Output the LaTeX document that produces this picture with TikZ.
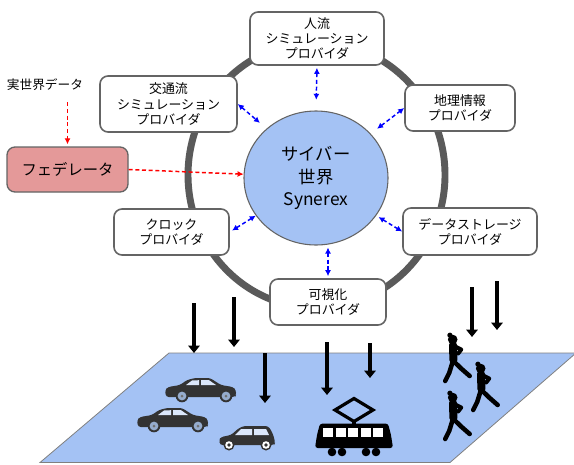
\documentclass[tikz,border=0pt]{standalone}
\usepackage{fontspec}
\newfontfamily\jpfont{Noto Sans CJK JP}
\usetikzlibrary{arrows.meta,shapes.geometric,positioning}

\definecolor{ringgray}{RGB}{90,90,90}
\definecolor{boxgray}{RGB}{100,100,100}
\definecolor{skyblue}{RGB}{164,194,244}
\definecolor{fedpink}{RGB}{228,153,153}
\definecolor{cargray}{RGB}{51,51,51}
\definecolor{rimblue}{RGB}{150,172,205}

\tikzset{
  provider/.style={draw=boxgray, line width=1.2pt, fill=white, rounded corners=6pt,
    align=center, inner sep=0pt, font=\jpfont\fontsize{9.7pt}{11.3pt}\selectfont},
  cyberworld/.style={ellipse, draw=boxgray, line width=0.8pt, fill=skyblue, inner sep=0pt,
    minimum width=108pt, minimum height=100.5pt, align=center,
    font=\jpfont\fontsize{13pt}{17pt}\selectfont},
  federator/.style={draw=boxgray, line width=1pt, fill=fedpink, rounded corners=6pt,
    inner sep=0pt, minimum width=90.75pt, minimum height=33.75pt,
    font=\jpfont\fontsize{11.5pt}{14pt}\selectfont},
  syncarrow/.style={blue, line width=1.1pt, dash pattern=on 3pt off 2pt,
    {Latex[length=4.5pt,width=4.5pt]}-{Latex[length=4.5pt,width=4.5pt]}},
  feedarrow/.style={red, line width=1.1pt, dash pattern=on 3pt off 2pt,
    -{Latex[length=4.5pt,width=4.5pt]}},
  dataarrow/.style={black, line width=3.3pt, -{Triangle[length=5.5pt,width=8.5pt]}},
  % small icons on the ground plane (drawn y down, so use transform shape)
  sedan/.pic={
    \fill[cargray, rounded corners=2pt] (1,19) -- (0,12) -- (3,9) -- (15,7) -- (22,2) -- (30,0)
      -- (45,0) -- (56,7) -- (68,9) -- (71,12) -- (71,17) -- (70,19) -- cycle;
    \fill[skyblue!40!white] (21,7) -- (27,2.5) -- (34,2.2) -- (34,7) -- cycle;
    \fill[skyblue!40!white] (36,7) -- (36,2.2) -- (44,2.2) -- (51,7) -- cycle;
    \foreach \wx in {17,61} {
      \fill[cargray] (\wx,18) circle (6.3);
      \fill[rimblue] (\wx,18) circle (4.4);
      \fill[cargray!70] (\wx,18) circle (1.5);
    }
  },
  hatchback/.pic={
    \fill[cargray, rounded corners=2pt] (1,19) -- (0,14) -- (2,11) -- (12,9) -- (20,2) -- (25,0)
      -- (49,0) -- (52,4) -- (55,11) -- (56,17) -- (55,19) -- cycle;
    \fill[skyblue!40!white] (16,9) -- (22,3) -- (33,3) -- (33,9) -- cycle;
    \fill[skyblue!40!white] (35,9) -- (35,3) -- (47,3) -- (50,9) -- cycle;
    \foreach \wx in {10,47} {
      \fill[cargray] (\wx,19) circle (5.5);
      \fill[white] (\wx,19) circle (3.8);
      \fill[cargray] (\wx,19) circle (1.8);
    }
  },
  tram/.pic={
    \draw[line width=2.4pt, line join=miter] (39,1.5) -- (58,13) -- (39,24.5) -- (20,13) -- cycle;
    \draw[line width=2.4pt] (39,24.5) -- (39,28);
    \fill[rounded corners=2pt] (0,51) -- (2,38) -- (5,26.5) -- (73,26.5) -- (76,38) -- (78,51) -- cycle;
    \foreach \wx in {8,20.5,33,45.5,58}
      \fill[white] (\wx,30.5) rectangle ++(10,9.5);
    \foreach \wx in {17,27,51,61}
      \fill (\wx,55) circle (4.3);
  },
  runner/.pic={
    \fill (0,0.5) circle (4.8);
    \fill (-2.8,-3.8) circle (2.6);
    \draw[line width=6pt, line cap=round] (0.3,6) -- (0.7,21);
    \draw[line width=3pt, line cap=round, line join=round] (1.5,7) -- (8.5,10.5) -- (5.5,14.5);
    \draw[line width=3.4pt, line cap=round, line join=round] (0.7,22) -- (9,30) -- (17,37);
    \draw[line width=3.4pt, line cap=round, line join=round] (0.2,22) -- (-3.5,34) -- (-7.5,42);
  }
}

\begin{document}
\begin{tikzpicture}[x=0.75pt,y=0.75pt,yscale=-1,xscale=1]
	\useasboundingbox (0,0) rectangle (574,464);

	% ring of providers
	\draw[ringgray, line width=5.2pt] (316.5,175) ellipse (128.5 and 133);

	% cyber world in the middle
	\node[cyberworld] (cyber) at (316,178) {サイバー\\世界\\Synerex};

	% providers on the ring
	\node[provider, minimum width=100.5pt, minimum height=39.75pt] (people) at (317,38.5) {人流\\シミュレーション\\プロバイダ};
	\node[provider, minimum width=102.75pt, minimum height=42pt] (traffic) at (168.5,104) {交通流\\シミュレーション\\プロバイダ};
	\node[provider, minimum width=82.5pt, minimum height=34.5pt] (geo) at (460,108) {地理情報\\プロバイダ};
	\node[provider, minimum width=100.5pt, minimum height=35.25pt] (storage) at (470,231.5) {データストレージ\\プロバイダ};
	\node[provider, minimum width=86.25pt, minimum height=34.5pt] (clock) at (171.5,232) {クロック\\プロバイダ};
	\node[provider, minimum width=87pt, minimum height=34.5pt] (visual) at (328,302) {可視化\\プロバイダ};

	% federator and its input
	\node[federator] (fed) at (67.5,169.5) {フェデレータ};
	\node[font=\jpfont\fontsize{9.5pt}{11pt}\selectfont] (realdata) at (45,85) {実世界データ};

	% exchange with the cyber world
	\draw[syncarrow, shorten <=1.5pt, shorten >=8pt] (people.south) -- (cyber.north);
	\draw[syncarrow, shorten >=6.5pt] (traffic.east) -- (cyber.135);
	\draw[syncarrow, shorten <=6pt] (cyber.39) -- (geo.west);
	\draw[syncarrow, shorten <=2pt] (cyber.-32) -- (storage.west);
	\draw[syncarrow, shorten <=2pt] (clock.east) -- (cyber.212);
	\draw[syncarrow, shorten <=1.5pt, shorten >=1.5pt] (visual.north |- cyber.south) -- (visual.north);

	\draw[feedarrow, shorten <=5pt, shorten >=1.5pt] (fed.north |- realdata.south) -- (fed.north);
	\draw[feedarrow] (fed.east) -- (cyber.177);

	% real world plane
	\draw[draw=gray, line width=0.6pt, fill=skyblue] (169,353) -- (576,353) -- (450,462.5) -- (40,462.5) -- cycle;

	% sensing / feedback arrows
	\foreach \ax/\ay/\by in {194/303/353, 234/297/347, 265/353/403, 327/342/395, 370/343/378, 472/287/337, 497/281/330}
		\draw[dataarrow] (\ax,\ay) -- (\ax,\by);

	% vehicles and people
	\pic[transform shape] at (165,378) {sedan};
	\pic[transform shape] at (137,408) {sedan};
	\pic[transform shape] at (219,426) {hatchback};
	\pic[transform shape] at (315,397) {tram};
	\pic[transform shape] at (452.7,339) {runner};
	\pic[transform shape] at (480.7,368) {runner};
	\pic[transform shape] at (452.7,397) {runner};

\end{tikzpicture}
\end{document}
